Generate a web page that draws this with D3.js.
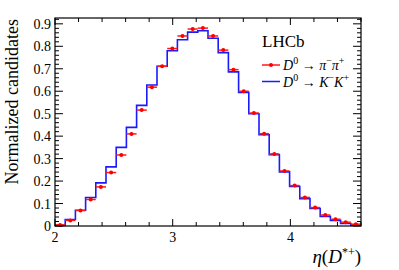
<!DOCTYPE html>
<html>
<head>
<meta charset="utf-8">
<script src="https://cdn.jsdelivr.net/npm/d3@7"></script>
<style>
  body { margin: 0; background: #fff; }
  text { font-family: "Liberation Serif", "Times New Roman", serif; fill: #000; }
</style>
</head>
<body>
<svg id="chart" width="399" height="270"></svg>
<script>
// histogram binning of eta(D*+)
const etaMin = 2.0;
const etaMax = 4.6;
const nBins = 30;

// D0 -> pi- pi+  (red points)
const pipiValues = [0.005, 0.025, 0.069, 0.118, 0.174, 0.238, 0.316, 0.410, 0.516, 0.618,
                    0.711, 0.790, 0.846, 0.877, 0.881, 0.846, 0.783, 0.696, 0.600, 0.503,
                    0.411, 0.321, 0.245, 0.180, 0.127, 0.082, 0.049, 0.030, 0.017, 0.008];
const pipiErrors = [0.002, 0.003, 0.004, 0.004, 0.005, 0.005, 0.005, 0.006, 0.006, 0.006,
                    0.006, 0.006, 0.006, 0.006, 0.006, 0.006, 0.006, 0.006, 0.006, 0.006,
                    0.006, 0.005, 0.005, 0.005, 0.004, 0.004, 0.003, 0.003, 0.002, 0.002];

// D0 -> K- K+  (blue histogram)
const kkValues = [0.003, 0.029, 0.070, 0.127, 0.192, 0.263, 0.350, 0.439, 0.537, 0.628,
                  0.711, 0.780, 0.829, 0.863, 0.869, 0.836, 0.772, 0.686, 0.595, 0.500,
                  0.406, 0.317, 0.241, 0.176, 0.122, 0.078, 0.043, 0.025, 0.011, 0.004];

const xTicks = [2, 3, 4];
const yTicks = [0, 0.1, 0.2, 0.3, 0.4, 0.5, 0.6, 0.7, 0.8, 0.9];

const margin = {top: 18, right: 38, bottom: 44, left: 55};
const width = 399 - margin.left - margin.right;
const height = 270 - margin.top - margin.bottom;

const svg = d3.select('#chart');
const g = svg.append('g').attr('transform', `translate(${margin.left},${margin.top})`);

const x = d3.scaleLinear().domain([etaMin, etaMax]).range([0, width]);
const y = d3.scaleLinear().domain([0, 0.926]).range([height, 0]);

const binW = (etaMax - etaMin) / nBins;
const edges = d3.range(nBins + 1).map(i => etaMin + i * binW);

// blue step histogram
const stepPts = [];
kkValues.forEach((v, i) => { stepPts.push([edges[i], v]); stepPts.push([edges[i + 1], v]); });
const stepLine = d3.line().x(d => x(d[0])).y(d => y(d[1]));
g.append('path')
  .datum(stepPts)
  .attr('d', stepLine)
  .attr('fill', 'none')
  .attr('stroke', '#1a1aff')
  .attr('stroke-width', 1.6);

// red points with bin-width bars
const pts = g.selectAll('.pt')
  .data(pipiValues)
  .enter().append('g').attr('class', 'pt');
pts.append('line')
  .attr('x1', (d, i) => x(edges[i]))
  .attr('x2', (d, i) => x(edges[i + 1]))
  .attr('y1', d => y(d)).attr('y2', d => y(d))
  .attr('stroke', '#ff1a1a').attr('stroke-width', 1.5);
pts.append('line')
  .attr('x1', (d, i) => x(edges[i] + binW / 2))
  .attr('x2', (d, i) => x(edges[i] + binW / 2))
  .attr('y1', (d, i) => y(d - pipiErrors[i]))
  .attr('y2', (d, i) => y(d + pipiErrors[i]))
  .attr('stroke', '#ff1a1a').attr('stroke-width', 1.5);
pts.append('circle')
  .attr('cx', (d, i) => x(edges[i] + binW / 2))
  .attr('cy', d => y(d))
  .attr('r', 2)
  .attr('fill', '#ff0000');

// frame
g.append('rect')
  .attr('width', width).attr('height', height)
  .attr('fill', 'none').attr('stroke', '#000').attr('stroke-width', 1.2);

// ticks (ROOT style, inward on all four sides)
const xMinor = d3.range(2, 4.601, 0.2);
const yMinor = d3.range(0, 0.9201, 0.02);
const tickG = g.append('g').attr('stroke', '#000').attr('stroke-width', 1);
xMinor.forEach(t => {
  const major = xTicks.some(m => Math.abs(m - t) < 1e-6);
  const len = major ? 7 : 4;
  tickG.append('line').attr('x1', x(t)).attr('x2', x(t)).attr('y1', height).attr('y2', height - len);
  tickG.append('line').attr('x1', x(t)).attr('x2', x(t)).attr('y1', 0).attr('y2', len);
});
yMinor.forEach(t => {
  const major = yTicks.some(m => Math.abs(m - t) < 1e-6);
  const len = major ? 8 : 4;
  tickG.append('line').attr('x1', 0).attr('x2', len).attr('y1', y(t)).attr('y2', y(t));
  tickG.append('line').attr('x1', width).attr('x2', width - len).attr('y1', y(t)).attr('y2', y(t));
});

// tick labels
g.selectAll('.xl').data(xTicks).enter().append('text')
  .attr('x', d => x(d)).attr('y', height + 16)
  .attr('text-anchor', 'middle').attr('font-size', 14)
  .text(d => d);
g.selectAll('.yl').data(yTicks).enter().append('text')
  .attr('x', -4).attr('y', d => y(d) + 5)
  .attr('text-anchor', 'end').attr('font-size', 14)
  .text(d => d === 0 ? '0' : d.toFixed(1));

// axis titles
const xt = svg.append('text')
  .attr('x', 361).attr('y', 263)
  .attr('text-anchor', 'end').attr('font-size', 19);
xt.append('tspan').attr('font-style', 'italic').text('η');
xt.append('tspan').text('(');
xt.append('tspan').attr('font-style', 'italic').text('D');
xt.append('tspan').attr('font-size', 12).attr('dy', -7).text('*+');
xt.append('tspan').attr('dy', 7).text(')');

svg.append('text')
  .attr('transform', 'translate(18,19) rotate(-90)')
  .attr('text-anchor', 'end').attr('font-size', 18)
  .text('Normalized candidates');

// legend
svg.append('text').attr('x', 262).attr('y', 47).attr('font-size', 17).text('LHCb');

function decay(sel, a) {
  sel.append('tspan').attr('font-style', 'italic').text('D');
  sel.append('tspan').attr('font-size', 10).attr('dy', -6).text('0');
  sel.append('tspan').attr('dy', 6).text(' → ');
  sel.append('tspan').attr('font-style', 'italic').text(a);
  sel.append('tspan').attr('font-size', 10).attr('dy', -6).text('−');
  sel.append('tspan').attr('dy', 6).attr('font-style', 'italic').text(a);
  sel.append('tspan').attr('font-size', 10).attr('dy', -6).text('+');
}
const leg = svg.append('g');
leg.append('line').attr('x1', 262).attr('x2', 280).attr('y1', 65).attr('y2', 65)
  .attr('stroke', '#ff1a1a').attr('stroke-width', 1.5);
leg.append('circle').attr('cx', 271).attr('cy', 65).attr('r', 2).attr('fill', '#ff0000');
decay(leg.append('text').attr('x', 283).attr('y', 70).attr('font-size', 14), 'π');
leg.append('line').attr('x1', 262).attr('x2', 280).attr('y1', 81.5).attr('y2', 81.5)
  .attr('stroke', '#1a1aff').attr('stroke-width', 1.5);
decay(leg.append('text').attr('x', 283).attr('y', 86.5).attr('font-size', 14), 'K');
</script>
</body>
</html>
